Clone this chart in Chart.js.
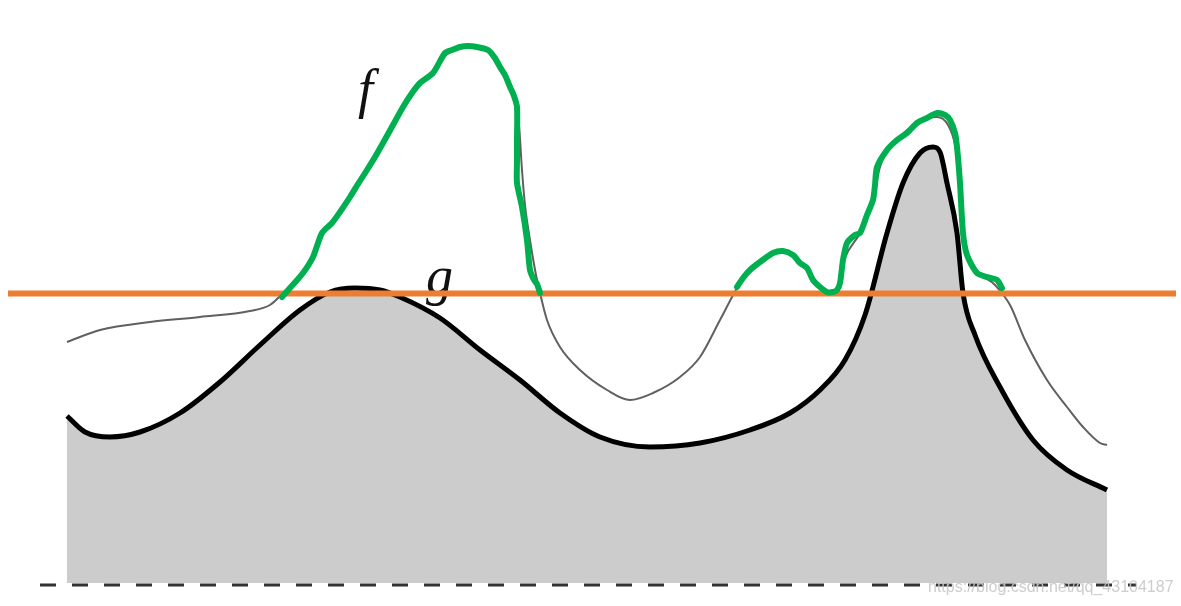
<!DOCTYPE html>
<html>
<head>
<meta charset="utf-8">
<script src="https://cdn.jsdelivr.net/npm/chart.js@4/dist/chart.umd.min.js"></script>
<style>
html,body{margin:0;padding:0;background:#fff;}
#wrap{width:1181px;height:606px;}
</style>
</head>
<body>
<div id="wrap"><canvas id="c" width="1181" height="606"></canvas></div>
<script>
// Values: x = horizontal position, y = height above the dashed baseline (value = 583 - image row)
const BASE = 583;
const gX = [67,85,110,140,180,220,260,300,330,355,380,400,440,480,520,560,600,650,700,750,790,820,845,865,887,903,920,933,940,947,957,963,975,1000,1033,1067,1107];
const gRow = [416,432,437,432,413,382,345,310,292,288,290,297,318,350,380,413,437,447,443,430,413,390,360,315,233,183,153,147,152,183,233,293,335,387,440,470,490];

const fX = [67,100,150,200,250,270,283,303,313,322,332,350,367,383,403,420,433,445,460,477,488,500,507,514,519,522,525,530,536,540,547,560,580,607,630,653,680,700,720,737,750,770,783,800,815,827,837,845,860,873,880,897,917,937,948,955,960,963,975,995,1010,1025,1047,1067,1083,1100,1107];
const fRow = [342,330,322,317,311,305,293,272,257,236,223,198,171,144,108,84,74,56,48,48,52,70,82,100,125,170,205,240,275,293,320,347,370,390,400,393,377,357,320,288,268,255,251,262,280,291,289,258,233,200,167,140,123,117,125,145,183,233,268,285,305,340,380,407,427,443,445];

const greenX = [282,290,303,313,322,332,340,350,358,367,375,383,393,403,412,420,433,445,452,460,468,477,488,495,500,505,510,514,517,517,517,517,522,527,530,534,537,540,null,737,743,750,760,773,783,793,800,807,813,820,827,833,837,840,843,847,855,860,867,873,875,877,887,897,907,917,927,937,945,950,955,957,960,963,967,977,987,997,1002];
const greenRow = [297,288,273,257,233,223,212,197,184,170,157,143,125,107,93,83,73,53,50,47,46,47,50,58,67,75,87,96,107,140,160,183,207,240,270,280,284,293,null,287,278,270,262,253,251,255,263,268,280,287,292,292,290,283,260,243,235,233,215,200,185,167,150,140,133,123,118,113,115,120,133,147,183,233,255,273,277,280,288];

const orangeX = [8,1176];
const orangeRow = [293.5,293.5];
const dashX = [40,1136];
const dashRow = [585,585];

const labels = [{text:'f', x:358, row:107}, {text:'g', x:426, row:294}];
const watermark = 'https://blog.csdn.net/qq_43104187';

const toPts = (xs, rows) => xs.map((x,i) => (x === null ? {x:null,y:null} : {x:x, y: BASE - rows[i]}));

const labelPlugin = {
  id:'labels',
  beforeDatasetsDraw(chart){
    const ctx = chart.ctx, xs = chart.scales.x, ys = chart.scales.y;
    ctx.save();
    ctx.fillStyle = '#111';
    ctx.font = 'italic 54px "Liberation Serif", "DejaVu Serif", serif';
    ctx.textBaseline = 'alphabetic';
    labels.forEach(l => ctx.fillText(l.text, xs.getPixelForValue(l.x), ys.getPixelForValue(BASE - l.row)));
    ctx.restore();
  },
  afterDraw(chart){
    const ctx = chart.ctx, xs = chart.scales.x, ys = chart.scales.y;
    ctx.save();
    ctx.fillStyle = 'rgba(200,200,200,0.9)';
    ctx.font = '16px "Liberation Sans", Arial, sans-serif';
    ctx.textBaseline = 'alphabetic';
    ctx.fillText(watermark, xs.getPixelForValue(928), ys.getPixelForValue(BASE - 592));
    ctx.restore();
  }
};

new Chart(document.getElementById('c'), {
  type:'line',
  data:{
    datasets:[
      {label:'green', data: toPts(greenX, greenRow), borderColor:'#00B050', borderWidth:6, tension:0.25, spanGaps:false, pointRadius:0, fill:false, borderCapStyle:'round', borderJoinStyle:'round'},
      {label:'orange', data: toPts(orangeX, orangeRow), borderColor:'#ED7D31', borderWidth:6, pointRadius:0, fill:false},
      {label:'f', data: toPts(fX, fRow), borderColor:'#606060', borderWidth:2, cubicInterpolationMode:'monotone', pointRadius:0, fill:false},
      {label:'g', data: toPts(gX, gRow), borderColor:'#000', borderWidth:5, backgroundColor:'#cccccc', cubicInterpolationMode:'monotone', pointRadius:0, fill:'origin'},
      {label:'base', data: toPts(dashX, dashRow), borderColor:'#333', borderWidth:3, borderDash:[16,16], pointRadius:0, fill:false}
    ]
  },
  options:{
    responsive:false,
    animation:false,
    layout:{padding:0},
    plugins:{legend:{display:false}, tooltip:{enabled:false}},
    scales:{
      x:{type:'linear', min:0, max:1181, display:false},
      y:{type:'linear', min:BASE-606, max:BASE, display:false}
    }
  },
  plugins:[labelPlugin]
});
</script>
</body>
</html>
